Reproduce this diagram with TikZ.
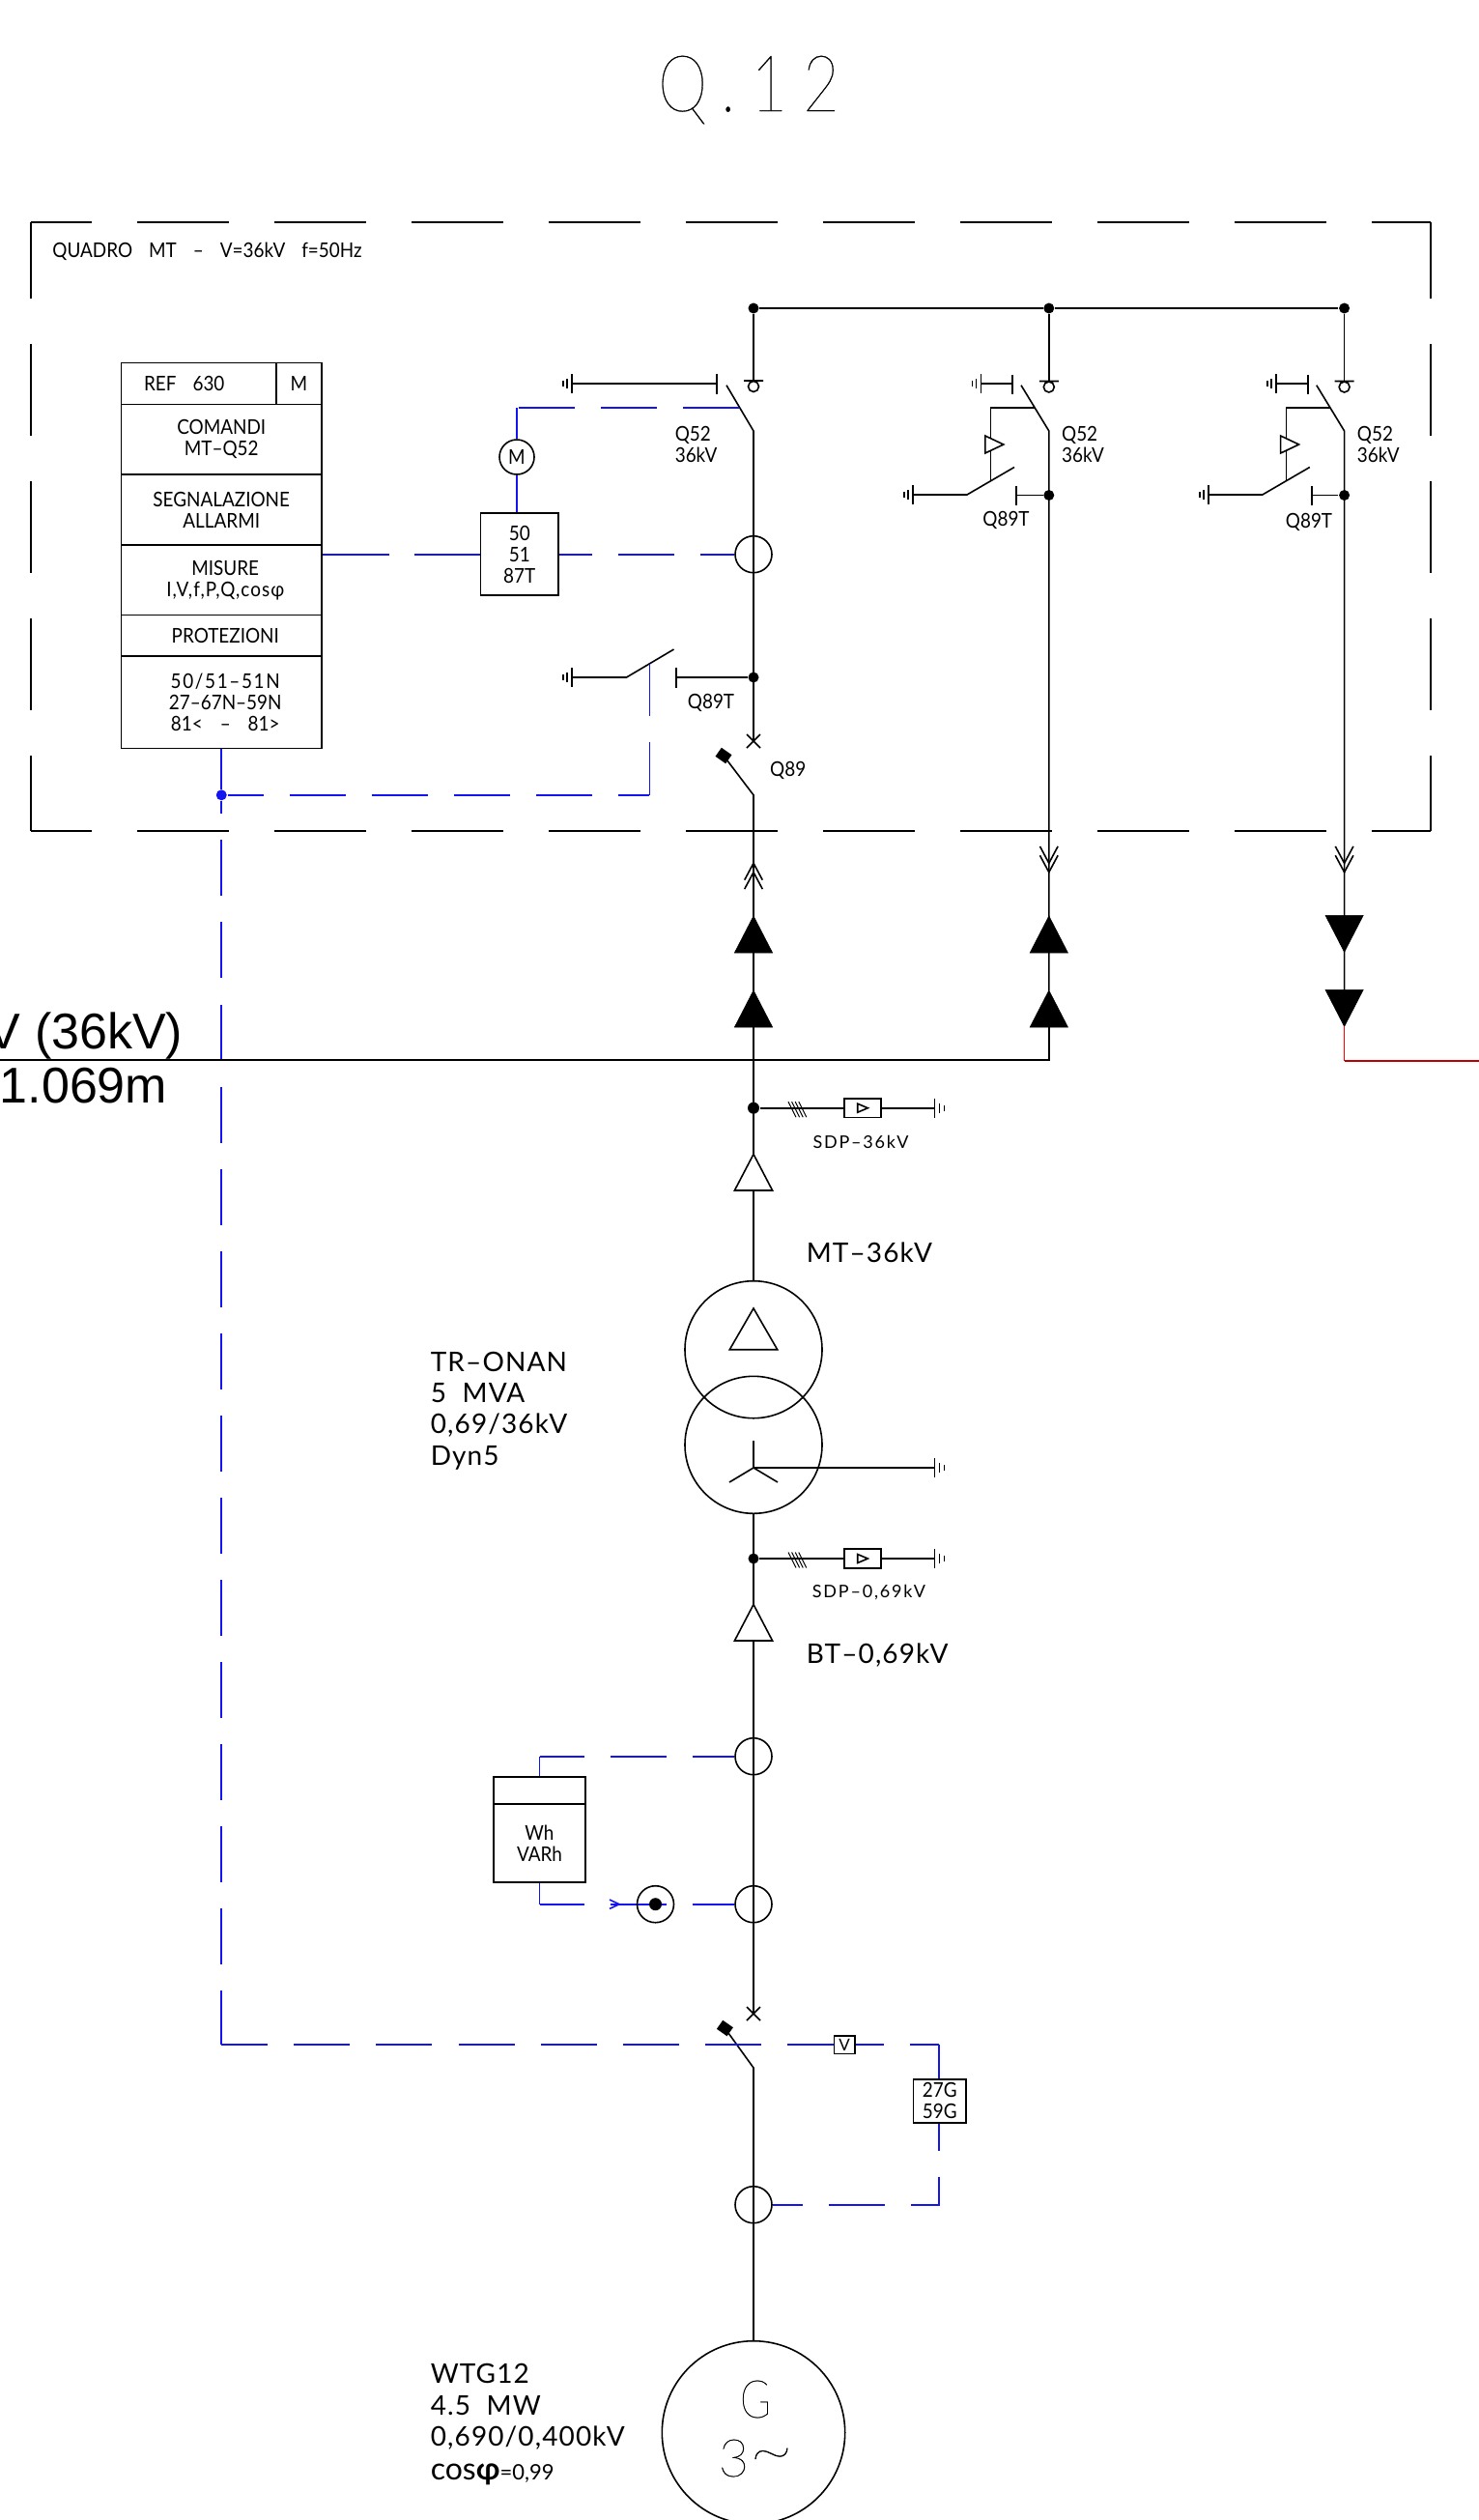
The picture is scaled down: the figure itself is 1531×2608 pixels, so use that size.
\documentclass[tikz,border=0pt]{standalone}
\usepackage{fontspec}
\setmainfont{Lato}
\newfontfamily\thinfont{Lato Thin}
\newfontfamily\arialfont{Liberation Sans}
\usetikzlibrary{positioning}
\definecolor{signal}{RGB}{20,20,240}
\definecolor{darkline}{RGB}{190,0,0}
\newcommand{\txt}{\fontsize{21}{22}\selectfont\addfontfeature{FakeStretch=0.9}}
\newcommand{\dsh}{\textendash}

\begin{document}
\begin{tikzpicture}[x=1pt,y=-1pt,line width=1.6pt,
    lbl/.style={inner sep=0pt,align=center,font=\txt},
    mid/.style={inner sep=0pt,align=left,anchor=west,font=\fontsize{28}{32.4}\selectfont\addfontfeature{LetterSpace=4}},
    box/.style={draw,inner sep=0pt,align=center,font=\txt},
    dot/.style={circle,fill=black,inner sep=0pt,minimum size=11pt},
    ct/.style={circle,draw,inner sep=0pt,minimum size=38pt},
    wind/.style={circle,draw,inner sep=0pt,minimum size=142pt},
    sig/.style={draw=signal},
    sigdash/.style={draw=signal,dash pattern=on 58pt off 27.07pt},
    frame/.style={line width=1.8pt,dash pattern=on 95.5pt off 46.5pt},
    earthL/.pic={\draw (0,-10)--(0,10) (-5,-5)--(-5,5) (-9,-3)--(-9,3);},
    earthR/.pic={\draw (0,-10)--(0,10) (5,-5)--(5,5) (10,-3)--(10,3);},
    cross/.pic={\draw (-7,-7)--(7,7) (-7,7)--(7,-7);},
    fixed/.pic={\draw (-10,0)--(10,0) (0,6) circle (5.5pt);},
    openfuse/.pic={\draw[fill=white] (-19.6,0)--(0,-37.5)--(19.6,0)--cycle;},
    fuse/.pic={\draw[fill=black,line width=.6pt] (-19.6,0)--(0,-38)--(19.6,0)--cycle;},
    chev/.pic={\draw (-9.3,17.4)--(0,0)--(9.3,17.4) (-9.3,26.8)--(0,9.4)--(9.3,26.8);},
    sdp/.pic={\draw[line width=1pt] (-4,-6.5)--(4,9.5) (-.4,-6.5)--(7.6,9.5) (3.2,-6.5)--(11.2,9.5) (6.8,-6.5)--(14.8,9.5);}
  ]
  \useasboundingbox (0,0) rectangle (1531,2608);
  \clip (0,0) rectangle (1531,2608);

  \node[inner sep=0pt,font=\thinfont\fontsize{81}{81}\selectfont\addfontfeature{FakeStretch=0.8,LetterSpace=20,FakeBold=0.4}] (Title) at (775,93) {Q.12};

  % quadro
  \coordinate (TL) at (31.6,230);
  \coordinate (TR) at (1481,230);
  \coordinate (BL) at (31.6,860);
  \coordinate (BR) at (1481,860);
  \draw[frame,dash phase=32] (TL) -- (TR);
  \draw[frame,dash phase=32] (BL) -- (BR);
  \draw[frame,dash phase=16.5] (TL) -- (BL);
  \draw[frame,dash phase=16.5] (TR) -- (BR);
  \node[lbl,anchor=west] (Quadro) at (53.6,260) {QUADRO\hspace{17pt}MT\hspace{17pt}\dsh\hspace{17pt}V=36kV\hspace{17pt}f=50Hz};

  % pannello
  \node[box,minimum width=160.5pt,minimum height=42.9pt] (Ref) at (205.75,396.85) {REF\hspace{17pt}630\hspace*{30pt}};
  \node[box,minimum width=47pt,minimum height=42.9pt] (RefM) at (309.5,396.85) {M};
  \node[box,minimum width=207.5pt,minimum height=72.7pt] (Com) at (229.25,454.65) {COMANDI\\[.5pt]MT\dsh Q52};
  \node[box,minimum width=207.5pt,minimum height=72.8pt] (Seg) at (229.25,527.4) {SEGNALAZIONE\\ALLARMI};
  \node[box,minimum width=207.5pt,minimum height=72.8pt] (Mis) at (229.25,600.2) {\hspace*{8pt}MISURE\\\hspace*{8pt}{\addfontfeature{LetterSpace=5}I,V,f,P,Q,cosφ}};
  \node[box,minimum width=207.5pt,minimum height=42.4pt] (Pro) at (229.25,657.8) {\hspace*{8pt}PROTEZIONI};
  \node[box,minimum width=207.5pt,minimum height=95.4pt] (Fun) at (229.25,726.7) {\addfontfeature{LetterSpace=8}\hspace*{8pt}50/51\dsh 51N\\\hspace*{8pt}27\dsh 67N\dsh 59N\\\hspace*{8pt}81<\hspace{18pt}\dsh\hspace{18pt}81>};
  \node[circle,draw,inner sep=0pt,minimum size=36pt,lbl,draw] (Mot) at (535,473) {M};
  \node[box,minimum width=80.5pt,minimum height=85pt] (Prot) at (537.75,573.7) {50\\51\\87T};
  \node[dot,fill=signal] (Nodo) at (229.25,822.8) {};

  % montante
  \node[dot] (Bus1) at (780,319) {};
  \node[ct] (CT1) at (780,573.7) {};
  \node[dot] (Dot1) at (780,701) {};
  \node[dot,minimum width=9pt,minimum height=12pt] (Dot2) at (780,1146.7) {};
  \node[wind] (Tr1) at (780,1396.7) {};
  \node[wind] (Tr2) at (780,1495.3) {};
  \node[dot,minimum size=11pt] (Dot3) at (780,1613) {};
  \node[ct] (CT2) at (780,1817.7) {};
  \node[ct] (CT3) at (780,1970.7) {};
  \node[ct] (CT4) at (780,2281.7) {};
  \node[circle,draw,inner sep=0pt,minimum size=189.4pt] (Gen) at (780,2517.4) {};
  \coordinate (Fix1) at (780,394);
  \coordinate (Sw1) at (780,446);
  \coordinate (Sw1t) at (752,398.7);
  \coordinate (X1) at (780,767);
  \coordinate (Sw2) at (780,822.8);
  \coordinate (Sw2t) at (749,782);
  \coordinate (X2) at (780,2084);
  \coordinate (Sw3) at (780,2140);
  \coordinate (Sw3t) at (750.4,2099);
  \draw (Bus1) -- (Fix1);
  \draw (Sw1t) -- (Sw1) -- (X1);
  \draw (Sw2t) -- (Sw2) -- (Tr1);
  \draw (Tr2) -- (X2);
  \draw (Sw3t) -- (Sw3) -- (Gen);
  \pic at (Fix1) {fixed};
  \pic at (X1) {cross};
  \pic at (X2) {cross};
  \node[fill=black,rotate=-35,inner sep=0pt,minimum width=13pt,minimum height=11pt] (Head1) at (Sw2t) {};
  \node[fill=black,rotate=-35,inner sep=0pt,minimum width=13pt,minimum height=11pt] (Head2) at (Sw3t) {};
  \pic at (780,893.3) {chev};
  \pic at (780,986) {fuse};
  \pic at (780,1063) {fuse};
  \pic at (780,1232) {openfuse};
  \pic at (780,1698) {openfuse};

  % sezionatore di terra
  \coordinate (Q1) at (742,397);
  \coordinate (E1) at (592,397);
  \draw (E1) -- (Q1);
  \draw (742,386.6) -- (742,407.6);
  \pic at (E1) {earthL};
  \coordinate (E2) at (592,701);
  \coordinate (Q2) at (648.5,701);
  \coordinate (Q3) at (697.5,672);
  \coordinate (Q4) at (700,701);
  \draw (E2) -- (Q2) -- (Q3);
  \draw (Q4) -- (Dot1);
  \draw (700,690.5) -- (700,711.5);
  \pic at (E2) {earthL};

  \node[lbl,anchor=west,align=left] (LabQ52) at (698,459.5) {Q52\\36kV};
  \node[lbl] (LabQ89T) at (736,727) {Q89T};
  \node[lbl,anchor=east] (LabQ89) at (835,797) {Q89};

  % comandi
  \coordinate (C1) at (765,422);
  \coordinate (C2) at (535,422);
  \draw[sigdash] (C1) -- (C2);
  \draw[sig] (C2) -- (Mot.north);
  \draw[sig] (Mot.south) -- (Mot.south |- Prot.north);
  \draw[sigdash,dash pattern=on 69pt off 26.6pt] (Mis.east |- Prot.west) -- (Prot.west);
  \draw[sigdash,dash phase=24] (Prot.east) -- (CT1.west);
  \draw[sig] (Fun.south) -- (Nodo);
  \coordinate (C3) at (672.4,822.8);
  \coordinate (C4) at (672.4,686.6);
  \draw[sigdash,dash phase=20.6] (Nodo) -- (C3);
  \draw[sigdash,dash phase=3.6] (C4) -- (C3);
  \coordinate (C5) at (229.25,2116);
  \node[box,minimum width=21.4pt,minimum height=18.6pt,font=\fontsize{17}{17}\selectfont] (Vv) at (874,2116) {V};
  \draw[sigdash,dash phase=44.8] (Nodo) -- (C5);
  \draw[sigdash,dash phase=9.9] (C5) -- (Vv.west);

  % gruppo di misura
  \node[box,minimum width=95pt,minimum height=80.4pt] (Meter) at (558.5,1907.5) {Wh\\VARh};
  \node[box,minimum width=95pt,minimum height=28.3pt] (MeterH) at (558.5,1853.1) {};
  \coordinate (C6) at (558.5,1817.7);
  \coordinate (C7) at (558.5,1970.7);
  \draw[sig] (MeterH.north) -- (C6);
  \draw[sigdash,dash phase=12] (C6) -- (CT2.west);
  \draw[sig] (Meter.south) -- (C7);
  \draw[sigdash,dash phase=12] (C7) -- (CT3.west);
  \draw[sig] (631,1966) -- (641,1970.7) -- (631,1975.4);
  \node[ct] (Coil) at (678.5,1970.7) {};
  \node[dot,minimum size=13pt] (CoilD) at (678.5,1970.7) {};

  % protezione
  \node[box,minimum width=54.4pt,minimum height=45pt] (Rel) at (972.8,2174.2) {27G\\59G};
  \coordinate (C8) at (972,2116);
  \coordinate (C9) at (972,2281.7);
  \draw[sigdash,dash phase=29] (Vv.east) -- (C8);
  \draw[sig] (C8) -- (C8 |- Rel.north);
  \draw[sigdash,dash phase=29.7] (C9 |- Rel.south) -- (C9) -- (CT4.east);

  % partenze
  \foreach \f/\X/\Y/\Z in {A/1085.8/538/-44.3,B/1391.6/540/-36.6}{
    \begin{scope}[xshift=\X pt]
      \node[dot] (Bus\f) at (0,319) {};
      \node[dot] (Dot\f) at (0,512.5) {};
      \coordinate (Fix\f) at (0,394.5);
      \coordinate (Sw\f) at (0,446);
      \coordinate (Top\f) at (-28.8,398.7);
      \coordinate (End\f) at (0,893);
      \coordinate (Aux\f) at (-14.8,422);
      \coordinate (Cor\f) at (-60.2,422);
      \coordinate (Bot\f) at (-60.2,497.5);
      \draw (Bus\f) -- (Fix\f);
      \draw (Top\f) -- (Sw\f) -- (End\f) -- (0,1025);
      \draw (Aux\f) -- (Cor\f) -- (Bot\f);
      \pic at (Fix\f) {fixed};
      \draw (-37.8,387.5) -- (-37.8,407.5);
      \draw (-70.4,397) -- (-37.8,397);
      \pic at (-70.4,397) {earthL};
      \draw[fill=white] (-66,451) -- (-47,460) -- (-66,469) -- cycle;
      \draw (-140.8,512) -- (-84.8,512) -- (-35.8,483.5);
      \pic at (-140.8,512) {earthL};
      \draw (-33.8,502.5) -- (-33.8,522.5);
      \draw (-33.8,512.5) -- (Dot\f);
      \node[lbl,anchor=west,align=left] (Lab\f) at (12.5,459.5) {Q52\\36kV};
      \node[lbl] (LabT\f) at (\Z,\Y) {Q89T};
      \pic[rotate=180] at (0,902.7) {chev};
    \end{scope}
  }
  \draw[line width=1.8pt] (Bus1) -- (BusA) -- (BusB);
  \pic at (1085.8,986) {fuse};
  \pic at (1085.8,1063) {fuse};
  \pic[rotate=180] at (1391.6,947.3) {fuse};
  \pic[rotate=180] at (1391.6,1024.3) {fuse};
  \coordinate (Out) at (1391.6,1062.3);
  \coordinate (OutC) at (1391.6,1097.5);
  \coordinate (OutE) at (1531,1097.5);
  \draw[red] (Out) -- (OutC);
  \draw[darkline,line width=2pt] (OutC) -- (OutE);

  % linea
  \coordinate (LineW) at (0,1097);
  \coordinate (LineE) at (1085.8,1097);
  \draw[line width=2pt] (LineW) -- (LineE) -- (1085.8,1063);
  \node[anchor=base east,inner sep=0pt,font=\arialfont\fontsize{52}{52}\selectfont] (Lab36) at (190,1085) {V (36kV)};
  \node[anchor=base east,inner sep=0pt,font=\arialfont\fontsize{52}{52}\selectfont] (LabLen) at (174,1141) {1.069m};

  % scaricatori
  \coordinate (E3) at (967.5,1146.7);
  \node[draw,inner sep=0pt,minimum width=38.3pt,minimum height=19.5pt] (Sdp1) at (892.9,1146.7) {};
  \draw (Dot2) -- (Sdp1) -- (E3);
  \pic at (E3) {earthR};
  \pic at (820,1146.7) {sdp};
  \draw (887.7,1142.2) -- (898.3,1146.7) -- (887.7,1151.2) -- cycle;
  \node[lbl,font=\fontsize{18}{18}\selectfont\addfontfeature{LetterSpace=10}] (LabS1) at (891,1182) {SDP\dsh 36kV};
  \coordinate (E4) at (967.5,1613);
  \node[draw,inner sep=0pt,minimum width=38.3pt,minimum height=19.5pt] (Sdp2) at (892.9,1613) {};
  \draw (Dot3) -- (Sdp2) -- (E4);
  \pic at (E4) {earthR};
  \pic at (820,1613) {sdp};
  \draw (887.7,1608.5) -- (898.3,1613) -- (887.7,1617.5) -- cycle;
  \node[lbl,font=\fontsize{18}{18}\selectfont\addfontfeature{LetterSpace=10}] (LabS2) at (899.4,1648) {SDP\dsh 0,69kV};

  % trasformatore
  \draw (780,1354) -- (804.7,1396.7) -- (755.3,1396.7) -- cycle;
  \coordinate (Star) at (780,1519);
  \coordinate (E5) at (967.5,1519);
  \draw (Star) -- (780,1490.7);
  \draw (Star) -- (755,1534);
  \draw (Star) -- (805,1534);
  \draw (Star) -- (E5);
  \pic at (E5) {earthR};
  \node[mid] (LabMT) at (834,1296) {MT\dsh 36kV};
  \node[mid] (LabBT) at (834,1712.7) {BT\dsh 0,69kV};
  \node[mid] (LabTR) at (445,1460) {TR\dsh ONAN\\5\ \ MVA\\0,69/36kV\\Dyn5};

  % generatore
  \node[mid] (LabWTG) at (445,2491) {WTG12\\4.5\ \ MW\\0,690/0,400kV};
  \node[inner sep=0pt,anchor=base west,font=\fontsize{32}{32}\selectfont] (LabCos) at (445,2566) {cos{\bfseries φ}\fontsize{22}{22}\selectfont=0,99};
  \node[inner sep=0pt,font=\thinfont\fontsize{54}{54}\selectfont\addfontfeature{FakeStretch=0.8,FakeBold=0.5}] (LabG) at (782,2483) {G};
  \node[inner sep=0pt,font=\thinfont\fontsize{54}{54}\selectfont\addfontfeature{FakeBold=0.5}] (Lab3) at (782.7,2544) {3{\fontsize{80}{54}\selectfont\textasciitilde}};
\end{tikzpicture}
\end{document}
